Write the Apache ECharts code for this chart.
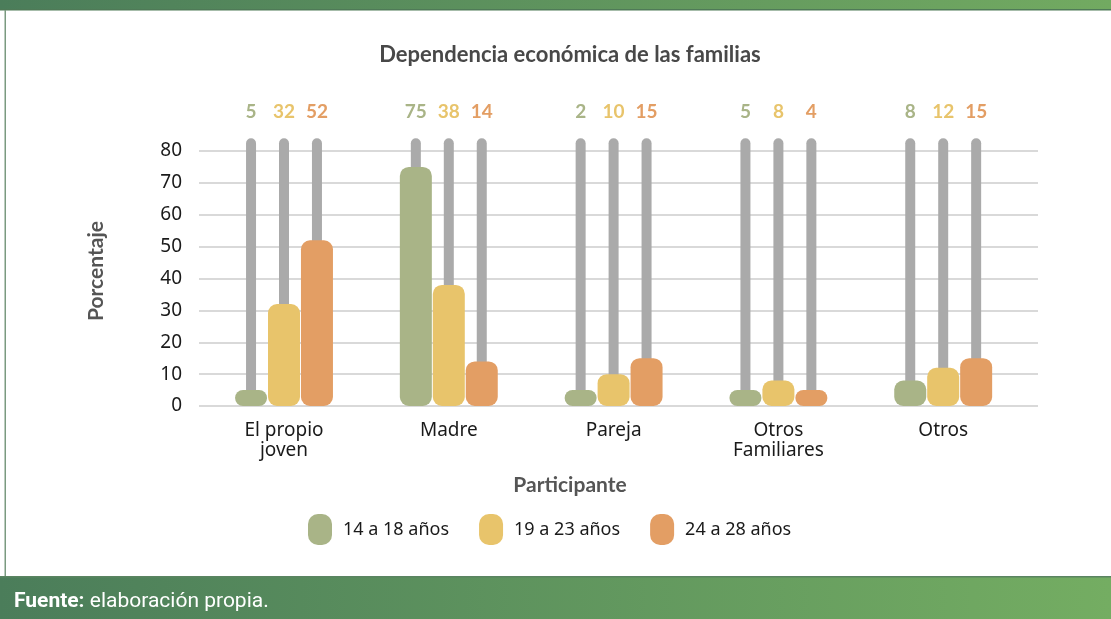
<!DOCTYPE html>
<html>
<head>
<meta charset="utf-8">
<script src="https://cdn.jsdelivr.net/npm/echarts@6/dist/echarts.min.js"></script>
<style>
  html, body { margin: 0; padding: 0; background: #fff; }
  #dependenciaChart { width: 1111px; height: 619px; }
</style>
</head>
<body>
<div id="dependenciaChart"></div>
<script>
  // datos
  const participantes = ['El propio\njoven', 'Madre', 'Pareja', 'Otros\nFamiliares', 'Otros']
  const grupos = ['14 a 18 años', '19 a 23 años', '24 a 28 años']
  const edad14a18 = [5, 75, 2, 5, 8]
  const edad19a23 = [32, 38, 10, 8, 12]
  const edad24a28 = [52, 14, 15, 4, 15]
  const fondo = [84, 84, 84, 84, 84]
  const ticksY = [0, 10, 20, 30, 40, 50, 60, 70, 80]

  const colores = ['#a9b487', '#e8c46b', '#e39e64']
  const valores = [edad14a18, edad19a23, edad24a28]
  const fuente = 'Noto Sans'
  const fuenteTitulo = 'Lato'

  const myChart = echarts.init(document.getElementById('dependenciaChart'))

  const pill = 'path://M10,0 H14 A10,10 0 0 1 24,10 V21 A10,10 0 0 1 14,31 H10 A10,10 0 0 1 0,21 V10 A10,10 0 0 1 10,0 Z'

  const seriesFondo = valores.map((vals, i) => ({
    type: 'bar',
    xAxisIndex: 2,
    yAxisIndex: 1,
    data: fondo,
    barWidth: 10,
    barGap: '229.6%',
    clip: false,
    silent: true,
    itemStyle: {
      color: '#aaaaaa',
      borderRadius: [5, 5, 0, 0]
    },
    label: {
      show: true,
      position: 'top',
      distance: 17,
      formatter: p => vals[p.dataIndex],
      color: colores[i],
      fontFamily: fuenteTitulo,
      fontWeight: 'bold',
      fontSize: 19
    }
  }))

  const seriesDatos = valores.map((vals, i) => ({
    name: grupos[i],
    type: 'bar',
    xAxisIndex: 1,
    yAxisIndex: 1,
    data: vals,
    barWidth: 32,
    barGap: '3%',
    barMinHeight: 16,
    itemStyle: {
      color: colores[i],
      borderRadius: 9
    }
  }))

  const option = {
    animation: false,
    textStyle: { fontFamily: fuente },
    grid: [
      { left: 199, right: 73, top: 151, bottom: 213 },
      { left: 201.6, right: 85.4, top: 151, bottom: 213 }
    ],
    legend: {
      data: grupos.map((g, i) => ({ name: g, icon: pill, itemStyle: { color: colores[i] } })),
      left: 303,
      top: 509,
      itemWidth: 24,
      itemHeight: 31,
      itemGap: 30,
      textStyle: {
        fontFamily: fuente,
        fontSize: 18,
        color: '#1a1a1a',
        padding: [0, 0, 0, 6]
      }
    },
    xAxis: [
      { type: 'value', gridIndex: 0, show: false, min: 0, max: 1 },
      {
        type: 'category',
        gridIndex: 1,
        data: participantes,
        axisLine: { show: false },
        axisTick: { show: false },
        axisLabel: {
          margin: 15,
          fontSize: 19,
          lineHeight: 20,
          color: '#1a1a1a',
          fontFamily: fuente
        }
      },
      { type: 'category', gridIndex: 1, data: participantes, show: false, position: 'top' }
    ],
    yAxis: [
      {
        type: 'value',
        gridIndex: 0,
        min: ticksY[0],
        max: ticksY[ticksY.length - 1],
        interval: 10,
        axisLine: { show: false },
        axisTick: { show: false },
        splitLine: { lineStyle: { color: '#d9d9d9', width: 2 } },
        axisLabel: {
          margin: 17,
          fontSize: 19,
          color: '#1a1a1a',
          fontFamily: fuente
        }
      },
      {
        type: 'value',
        gridIndex: 1,
        min: ticksY[0],
        max: ticksY[ticksY.length - 1],
        show: false,
        splitLine: { show: false }
      }
    ],
    series: [...seriesFondo, ...seriesDatos],
    graphic: [
      {
        type: 'rect',
        shape: { x: 0, y: 0, width: 1111, height: 10 },
        style: {
          fill: new echarts.graphic.LinearGradient(0, 0, 1, 0, [
            { offset: 0, color: '#4b7d5a' },
            { offset: 1, color: '#72aa61' }
          ])
        }
      },
      { type: 'rect', shape: { x: 0, y: 9, width: 1111, height: 1.5 }, style: { fill: '#4f7a57' } },
      { type: 'rect', shape: { x: 4.5, y: 10, width: 1.5, height: 566 }, style: { fill: '#7a9a80' } },
      {
        type: 'rect',
        shape: { x: 0, y: 576, width: 1111, height: 43 },
        style: {
          fill: new echarts.graphic.LinearGradient(0, 0, 1, 0, [
            { offset: 0, color: '#4b7d5a' },
            { offset: 1, color: '#74ad62' }
          ])
        }
      },
      { type: 'rect', shape: { x: 0, y: 576, width: 1111, height: 1.5 }, style: { fill: '#5a8461' } },
      {
        type: 'text',
        x: 570,
        y: 55,
        style: {
          text: 'Dependencia económica de las familias',
          fontFamily: fuenteTitulo,
          fontWeight: 'bold',
          fontSize: 22,
          fill: '#484848',
          align: 'center',
          verticalAlign: 'middle'
        }
      },
      {
        type: 'text',
        x: 570,
        y: 485,
        style: {
          text: 'Participante',
          fontFamily: fuenteTitulo,
          fontWeight: 'bold',
          fontSize: 21,
          fill: '#555555',
          align: 'center',
          verticalAlign: 'middle'
        }
      },
      {
        type: 'text',
        x: 96,
        y: 271,
        rotation: Math.PI / 2,
        style: {
          text: 'Porcentaje',
          fontFamily: fuenteTitulo,
          fontWeight: 'bold',
          fontSize: 21,
          fill: '#555555',
          align: 'center',
          verticalAlign: 'middle'
        }
      },
      {
        type: 'text',
        x: 14,
        y: 602,
        style: {
          text: '{b|Fuente:} elaboración propia.',
          fontFamily: 'Roboto',
          fontSize: 21,
          fill: '#ffffff',
          verticalAlign: 'middle',
          rich: {
            b: { fontFamily: 'Roboto', fontWeight: 'bold', fontSize: 21, fill: '#ffffff' }
          }
        }
      }
    ]
  }

  myChart.setOption(option)
</script>
</body>
</html>
